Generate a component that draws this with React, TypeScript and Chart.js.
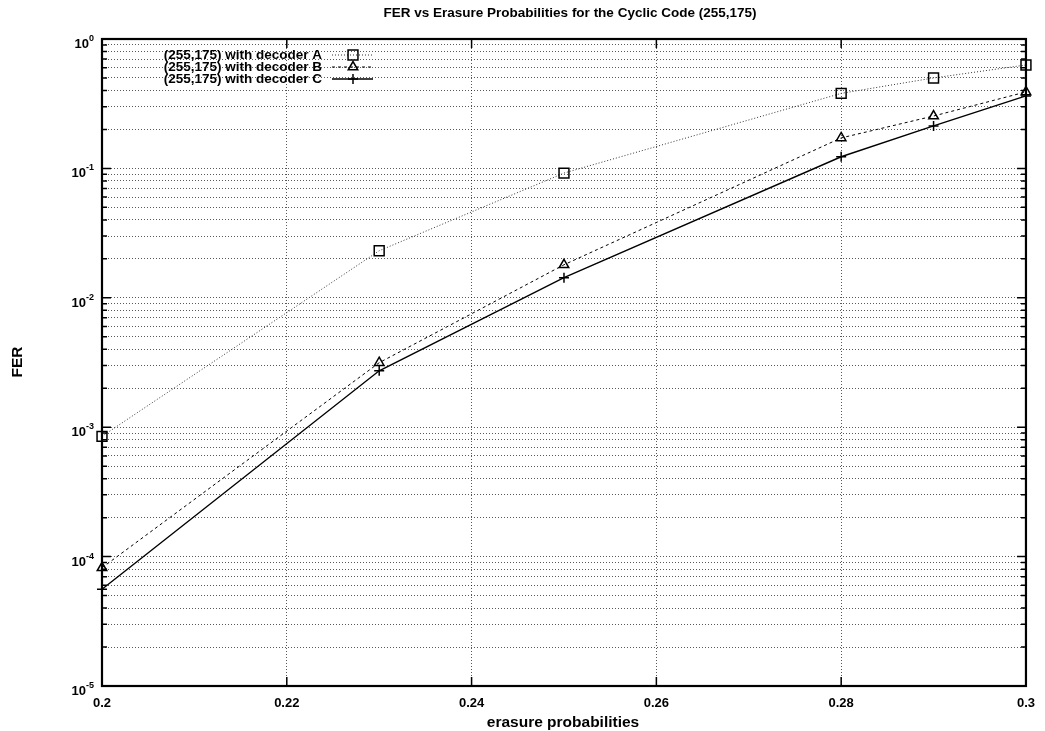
import React, { useEffect, useRef } from "react";
import { Chart, registerables } from "chart.js";

Chart.register(...registerables);

const chartTitle = "FER vs Erasure Probabilities for the Cyclic Code (255,175)";
const xTitle = "erasure probabilities";
const yTitle = "FER";

const xValues = [0.2, 0.23, 0.25, 0.28, 0.29, 0.3];
const decoderA = [0.00085, 0.0231, 0.092, 0.38, 0.5, 0.63];
const decoderB = [0.000082, 0.00315, 0.018, 0.172, 0.254, 0.39];
const decoderC = [0.000056, 0.00273, 0.0143, 0.123, 0.213, 0.363];

const seriesLabels = [
  "(255,175) with decoder A",
  "(255,175) with decoder B",
  "(255,175) with decoder C",
];

const xTicks = [0.2, 0.22, 0.24, 0.26, 0.28, 0.3];
const xTickLabels = ["0.2", "0.22", "0.24", "0.26", "0.28", "0.3"];
const yDecades = [-5, -4, -3, -2, -1, 0];
const yMantissas = [1, 2, 3, 4, 5, 6, 7, 8, 9];

const FONT = "'Liberation Sans', Arial, sans-serif";

function yTickValues(): number[] {
  const out: number[] = [];
  for (const d of yDecades) {
    if (d === 0) {
      out.push(1);
      continue;
    }
    for (const m of yMantissas) out.push(m * Math.pow(10, d));
  }
  return out;
}

const styles = [
  { color: "#333", dash: [1, 2], width: 1, point: "rect", radius: 7 },
  { color: "#000", dash: [3, 3], width: 1, point: "triangle", radius: 5.5 },
  { color: "#000", dash: [], width: 1.4, point: "cross", radius: 5 },
];

const decorPlugin = {
  id: "decor",
  afterDraw(chart: any) {
    const ctx = chart.ctx as CanvasRenderingContext2D;
    const { left, right, top, bottom } = chart.chartArea;
    const xs = chart.scales.x;
    const ys = chart.scales.y;
    ctx.save();
    ctx.setLineDash([]);
    ctx.strokeStyle = "#000";
    // inward ticks on y
    ctx.lineWidth = 1.5;
    for (const v of yTickValues()) {
      const y = ys.getPixelForValue(v);
      const isMajor = Math.abs(Math.log10(v) - Math.round(Math.log10(v))) < 1e-9;
      const len = isMajor ? 9 : 5;
      ctx.beginPath();
      ctx.moveTo(left, y);
      ctx.lineTo(left + len, y);
      ctx.moveTo(right, y);
      ctx.lineTo(right - len, y);
      ctx.stroke();
    }
    for (const v of xTicks) {
      const x = xs.getPixelForValue(v);
      ctx.beginPath();
      ctx.moveTo(x, bottom);
      ctx.lineTo(x, bottom - 9);
      ctx.moveTo(x, top);
      ctx.lineTo(x, top + 9);
      ctx.stroke();
    }
    // frame
    ctx.lineWidth = 2.2;
    ctx.strokeRect(left, top, right - left, bottom - top);

    // y tick labels with superscript exponents
    ctx.fillStyle = "#000";
    ctx.textBaseline = "alphabetic";
    ctx.textAlign = "left";
    for (const d of yDecades) {
      const y = ys.getPixelForValue(Math.pow(10, d));
      const base = "10";
      const exp = String(d);
      ctx.font = `bold 13px ${FONT}`;
      const wb = ctx.measureText(base).width;
      ctx.font = `bold 9px ${FONT}`;
      const we = ctx.measureText(exp).width;
      const x0 = 94 - wb - we;
      ctx.font = `bold 13px ${FONT}`;
      ctx.fillText(base, x0, y + 9);
      ctx.font = `bold 9px ${FONT}`;
      ctx.fillText(exp, x0 + wb, y + 2);
    }

    // title
    ctx.textAlign = "center";
    ctx.textBaseline = "middle";
    ctx.font = `bold 13.5px ${FONT}`;
    ctx.fillText(chartTitle, 570, 13);
    // x title
    ctx.font = `bold 15.5px ${FONT}`;
    ctx.fillText(xTitle, 563, 723);
    // y title
    ctx.save();
    ctx.translate(18, 362);
    ctx.rotate(-Math.PI / 2);
    ctx.font = `bold 15.5px ${FONT}`;
    ctx.fillText(yTitle, 0, 0);
    ctx.restore();

    // legend
    const rows = [55, 67, 79];
    for (let i = 0; i < 3; i++) {
      const y = rows[i];
      const s = styles[i];
      ctx.textAlign = "right";
      ctx.textBaseline = "middle";
      ctx.font = `bold 13.5px ${FONT}`;
      ctx.fillStyle = "#000";
      ctx.fillText(seriesLabels[i], 322, y);
      ctx.strokeStyle = s.color;
      ctx.lineWidth = s.width;
      ctx.setLineDash(s.dash);
      ctx.beginPath();
      ctx.moveTo(332, y);
      ctx.lineTo(373, y);
      ctx.stroke();
      ctx.setLineDash([]);
      ctx.strokeStyle = "#000";
      ctx.lineWidth = 1.5;
      ctx.beginPath();
      if (s.point === "rect") {
        const h = s.radius * Math.SQRT1_2;
        ctx.rect(353 - h, y - h, 2 * h, 2 * h);
      } else if (s.point === "triangle") {
        const r = s.radius;
        const edge = (3 * r) / Math.sqrt(3);
        const height = (edge * Math.sqrt(3)) / 2;
        ctx.moveTo(353 - edge / 2, y + height / 3);
        ctx.lineTo(353 + edge / 2, y + height / 3);
        ctx.lineTo(353, y - (2 * height) / 3);
        ctx.closePath();
      } else {
        ctx.moveTo(353 - s.radius, y);
        ctx.lineTo(353 + s.radius, y);
        ctx.moveTo(353, y - s.radius);
        ctx.lineTo(353, y + s.radius);
      }
      ctx.stroke();
    }
    ctx.restore();
  },
};

export default function App() {
  const canvasRef = useRef<HTMLCanvasElement | null>(null);

  useEffect(() => {
    document.body.style.margin = "0";
    const canvas = canvasRef.current;
    if (!canvas) return;
    const series = [decoderA, decoderB, decoderC];
    const chart = new Chart(canvas, {
      type: "line",
      data: {
        datasets: series.map((vals, i) => ({
          label: seriesLabels[i],
          data: xValues.map((x, j) => ({ x, y: vals[j] })),
          borderColor: styles[i].color,
          borderWidth: styles[i].width,
          borderDash: styles[i].dash,
          pointStyle: styles[i].point as any,
          pointRadius: styles[i].radius,
          pointBorderColor: "#000",
          pointBorderWidth: 1.5,
          pointBackgroundColor: "rgba(0,0,0,0)",
          fill: false,
          tension: 0,
          clip: false as any,
        })),
      },
      options: {
        animation: false,
        responsive: false,
        maintainAspectRatio: false,
        layout: { padding: { top: 39, right: 17, left: 0, bottom: 0 } },
        plugins: {
          legend: { display: false },
          title: { display: false },
          tooltip: { enabled: false },
        },
        scales: {
          x: {
            type: "linear",
            min: 0.2,
            max: 0.3,
            afterBuildTicks: (scale: any) => {
              scale.ticks = xTicks.map((v) => ({ value: v }));
            },
            afterFit: (scale: any) => {
              scale.height = 45;
            },
            ticks: {
              padding: 10,
              color: "#000",
              font: { family: FONT, size: 13, weight: "bold" },
              callback: (v: any) => {
                const idx = xTicks.findIndex((t) => Math.abs(t - Number(v)) < 1e-9);
                return idx >= 0 ? xTickLabels[idx] : "";
              },
              maxRotation: 0,
              autoSkip: false,
            },
            grid: {
              color: "rgba(0,0,0,0.65)",
              lineWidth: 1,
              drawTicks: false,
            },
            border: { display: false, dash: [1, 2] },
          },
          y: {
            type: "logarithmic",
            min: 1e-5,
            max: 1,
            afterBuildTicks: (scale: any) => {
              scale.ticks = yTickValues().map((v) => ({ value: v }));
            },
            afterFit: (scale: any) => {
              scale.width = 102;
            },
            ticks: { display: false, autoSkip: false },
            grid: {
              color: "rgba(0,0,0,0.65)",
              lineWidth: 1,
              drawTicks: false,
            },
            border: { display: false, dash: [1, 2] },
          },
        },
      },
      plugins: [decorPlugin],
    } as any);
    return () => chart.destroy();
  }, []);

  return (
    <div style={{ width: 1045, height: 731, background: "#fff" }}>
      <canvas ref={canvasRef} width={1045} height={731} style={{ display: "block" }} />
    </div>
  );
}
